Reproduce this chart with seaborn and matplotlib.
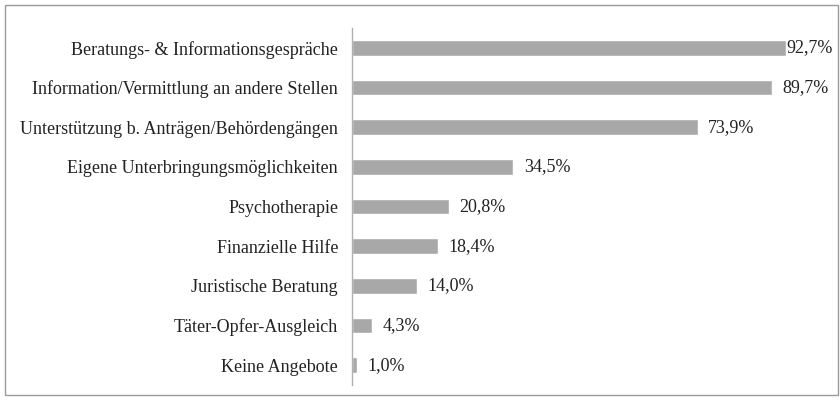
import numpy as np
import pandas as pd
import matplotlib
matplotlib.use('Agg')
import matplotlib.pyplot as plt
import matplotlib.patches as patches
import seaborn as sns

angebote = ['Beratungs- & Informationsgespräche',
            'Information/Vermittlung an andere Stellen',
            'Unterstützung b. Anträgen/Behördengängen',
            'Eigene Unterbringungsmöglichkeiten',
            'Psychotherapie',
            'Finanzielle Hilfe',
            'Juristische Beratung',
            'Täter-Opfer-Ausgleich',
            'Keine Angebote']
anteil = [92.7, 89.7, 73.9, 34.5, 20.8, 18.4, 14.0, 4.3, 1.0]

df = pd.DataFrame({'Angebot': angebote, 'Anteil': anteil})

sns.set_style('white')
plt.rcParams['font.family'] = ['Liberation Serif', 'DejaVu Serif']

fig = plt.figure(figsize=(8.4, 4), dpi=100)
ax = fig.add_axes([0.419, 0.0375, 0.557, 0.8925])
sns.barplot(data=df, x='Anteil', y='Angebot', color='#a8a8a8', width=0.4,
            saturation=1, ax=ax)

ax.set_xlim(0, 100)
ax.set_xlabel('')
ax.set_ylabel('')
ax.set_xticks([])
for s in ['top', 'right', 'bottom']:
    ax.spines[s].set_visible(False)
ax.spines['left'].set_color('#b0b0b0')
ax.spines['left'].set_linewidth(1)
ax.tick_params(axis='y', length=0, pad=10, labelsize=13, labelcolor='#222222')

# labels next to the bars; the longest one is squeezed to fit in the frame
for i, v in enumerate(anteil):
    ax.text(min(v + 2.2, 92.8), i, f'{v:.1f}%'.replace('.', ','), va='center', ha='left',
            fontsize=13, color='#222222')

fig.patches.append(patches.Rectangle((0.006, 0.0125), 0.992, 0.975, transform=fig.transFigure,
                                     fill=False, edgecolor='#9a9a9a', linewidth=1))

fig.savefig('out.png', dpi=100)
